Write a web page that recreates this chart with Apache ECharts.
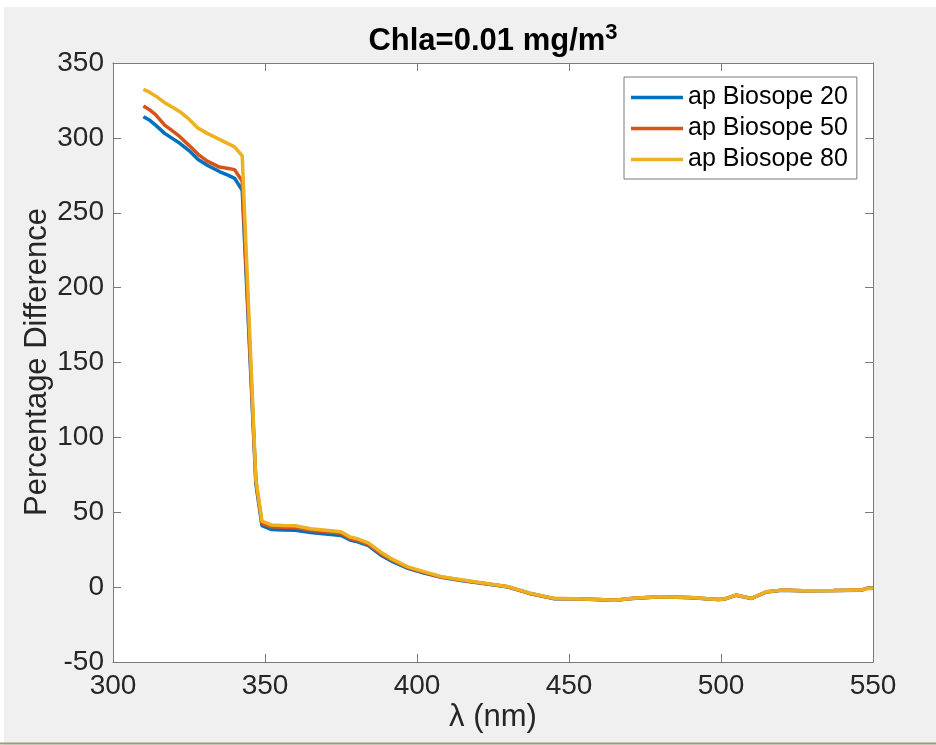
<!DOCTYPE html>
<html>
<head>
<meta charset="utf-8">
<script src="https://cdn.jsdelivr.net/npm/echarts@6/dist/echarts.min.js"></script>
<style>
  html, body { margin: 0; padding: 0; background: #fff; }
  #chart { width: 936px; height: 745px; }
</style>
</head>
<body>
<div id="chart"></div>
<script>
// Wavelength grid (nm) shared by the three absorption curves
const wavelength = [310, 312, 314, 317, 320, 322, 325, 328, 331, 335, 338, 340, 342.5, 347, 349, 352, 356, 360, 365, 370, 375, 378, 380, 384, 388, 392, 397, 402, 408, 415, 420, 426, 430, 437, 445, 452, 460, 465, 471, 480, 490, 499, 501, 505, 510, 515, 520, 527, 537, 546, 548, 550];

// Percentage difference per Biosope station
const apBiosope20 = [314.1, 311.9, 308.5, 303, 299, 296.4, 291.5, 285.5, 281.7, 277.5, 275, 273, 265, 69, 41, 38.5, 38.2, 38, 36.5, 35.5, 34.5, 31.5, 30.5, 27.8, 21.5, 17, 12.5, 9.5, 6.5, 4.3, 2.9, 1.2, 0.1, -4.2, -7.7, -7.8, -8.4, -8.8, -7.6, -6.5, -7.1, -8.3, -8.1, -5.4, -7.6, -3.2, -2.1, -2.5, -2.3, -2.1, -0.8, -0.7];
const apBiosope50 = [321.3, 318.8, 315.5, 308.5, 304, 300.8, 295, 289, 284.5, 280.5, 279.5, 278.8, 271, 71, 42.5, 40.3, 40, 39.8, 38, 37, 36, 32.5, 31.5, 28.6, 22.5, 17.8, 13, 10, 6.8, 4.6, 3.1, 1.4, 0.2, -4.1, -7.6, -7.7, -8.3, -8.7, -7.5, -6.4, -7, -8.2, -8, -5.3, -7.5, -3.1, -2, -2.4, -2.2, -2, -0.8, -0.8];
const apBiosope80 = [332.4, 330.5, 328, 323.5, 320, 317.5, 312.5, 306.5, 303, 299, 296, 294, 288, 72, 44, 41.5, 41.2, 41, 39, 38, 37, 33.5, 32.5, 29.5, 23.5, 18.5, 13.5, 10.5, 7, 4.8, 3.3, 1.5, 0.3, -4, -7.5, -7.7, -8.3, -8.7, -7.5, -6.4, -7, -8.2, -8, -5.3, -7.5, -3.1, -2, -2.4, -2.2, -2, -0.9, -0.9];

const seriesNames = ['ap Biosope 20', 'ap Biosope 50', 'ap Biosope 80'];
const seriesColors = ['#0072BD', '#D95319', '#EDB120'];

// Axis ticks
const xTicks = [300, 350, 400, 450, 500, 550];
const yTicks = [-50, 0, 50, 100, 150, 200, 250, 300, 350];

const FONT = '"Liberation Sans", Arial, Helvetica, sans-serif';
const AXIS_COLOR = '#7a7a7a';
const TEXT_COLOR = '#262626';

function pairs(values) {
  return wavelength.map((w, i) => [w, values[i]]);
}

function valueAxis(ticks, position, showLabels, margin) {
  return {
    type: 'value',
    position: position,
    min: ticks[0],
    max: ticks[ticks.length - 1],
    interval: ticks[1] - ticks[0],
    axisLine: { show: true, onZero: false, lineStyle: { color: AXIS_COLOR, width: 1 } },
    axisTick: { show: true, inside: true, length: 8, lineStyle: { color: AXIS_COLOR, width: 1 } },
    axisLabel: { show: showLabels, fontSize: 28, color: TEXT_COLOR, fontFamily: FONT, margin: margin },
    splitLine: { show: false }
  };
}

const chart = echarts.init(document.getElementById('chart'), null, { renderer: 'canvas' });

chart.setOption({
  animation: false,
  backgroundColor: '#f0f0f0',
  grid: {
    left: 113, top: 63, width: 760, height: 599,
    show: true, backgroundColor: '#ffffff', borderWidth: 0
  },
  xAxis: [
    valueAxis(xTicks, 'bottom', true, 10),
    valueAxis(xTicks, 'top', false, 10)
  ],
  yAxis: [
    valueAxis(yTicks, 'left', true, 9),
    valueAxis(yTicks, 'right', false, 9)
  ],
  legend: {
    orient: 'vertical',
    left: 624, top: 77,
    icon: 'rect',
    itemWidth: 52, itemHeight: 3.5, itemGap: 6,
    backgroundColor: '#ffffff',
    borderColor: AXIS_COLOR, borderWidth: 1, borderRadius: 0,
    padding: [8, 9, 7, 7],
    textStyle: { fontSize: 25, lineHeight: 25, color: '#000', fontFamily: FONT },
    data: seriesNames
  },
  graphic: [
    { type: 'rect', shape: { x: 0, y: 0, width: 936, height: 7 }, style: { fill: '#ffffff' } },
    { type: 'rect', shape: { x: 0, y: 0, width: 4, height: 745 }, style: { fill: '#ffffff' } },
    { type: 'rect', shape: { x: 0, y: 742.5, width: 936, height: 2 }, style: { fill: '#9b9b80' } },
    {
      type: 'text', x: 493, y: 39,
      style: {
        text: '{a|Chla=0.01 mg/m}{s|3}',
        align: 'center', verticalAlign: 'middle',
        rich: {
          a: { fontSize: 31, fontWeight: 'bold', fontFamily: FONT, fill: '#000', padding: [4, 0, 0, 0] },
          s: { fontSize: 22, fontWeight: 'bold', fontFamily: FONT, fill: '#000', verticalAlign: 'top', lineHeight: 16 }
        }
      }
    },
    {
      type: 'text', x: 493, y: 717,
      style: { text: 'λ (nm)', fontSize: 31, fontFamily: FONT, fill: TEXT_COLOR, align: 'center', verticalAlign: 'middle' }
    },
    {
      type: 'text', x: 37, y: 362, rotation: Math.PI / 2,
      style: { text: 'Percentage Difference', fontSize: 31, fontFamily: FONT, fill: TEXT_COLOR, align: 'center', verticalAlign: 'middle' }
    }
  ],
  series: [apBiosope20, apBiosope50, apBiosope80].map((vals, i) => ({
    name: seriesNames[i],
    type: 'line',
    xAxisIndex: 0, yAxisIndex: 0,
    data: pairs(vals),
    symbol: 'none',
    color: seriesColors[i],
    lineStyle: { color: seriesColors[i], width: 3.5 },
    z: 2 + i
  }))
});
</script>
</body>
</html>
